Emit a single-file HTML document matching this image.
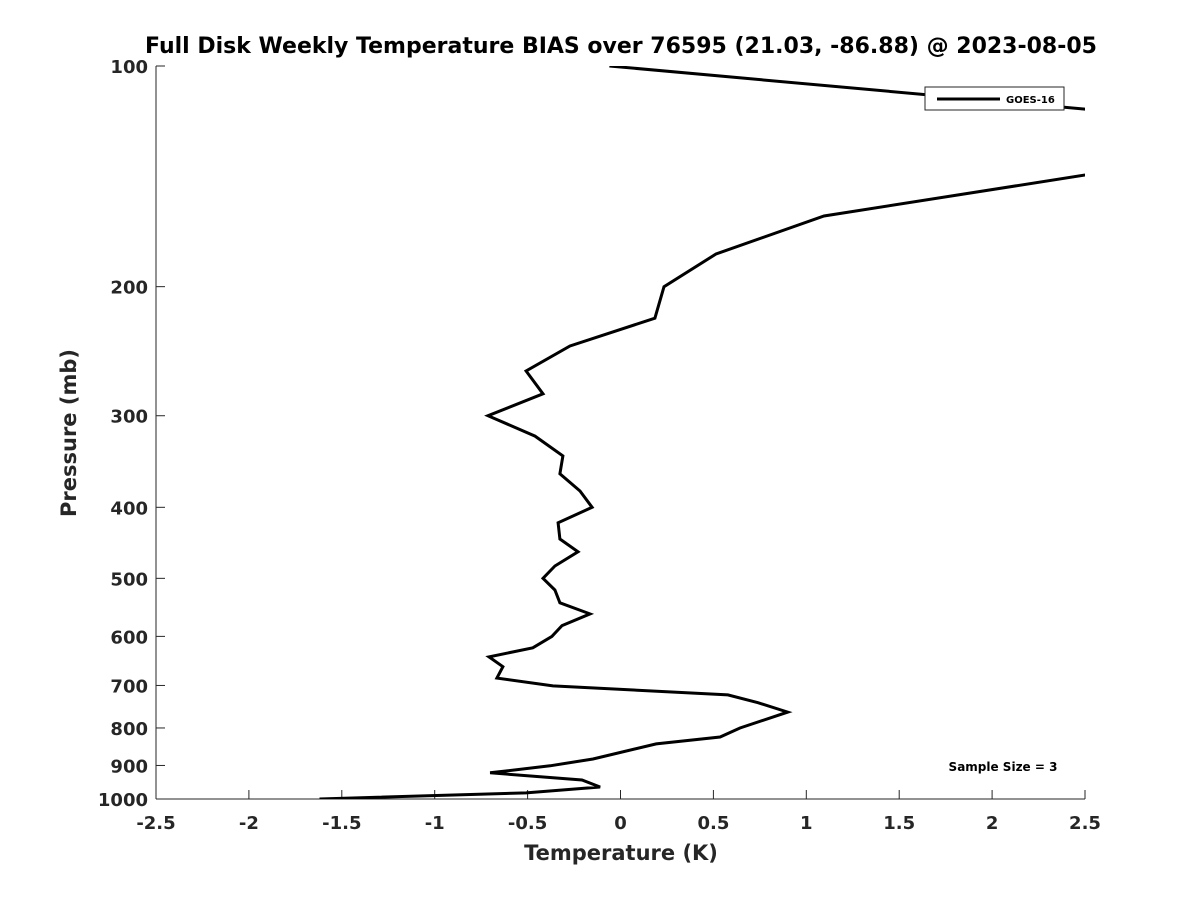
<!DOCTYPE html>
<html><head><meta charset="utf-8"><style>
body{margin:0;background:#fff}
svg text{font-family:"DejaVu Sans","Liberation Sans",sans-serif;font-weight:bold;fill:#262626}
</style></head><body>
<svg id="c" width="1200" height="900" xmlns="http://www.w3.org/2000/svg">
<text x="621" y="53" font-size="22" text-anchor="middle" style="fill:#000">Full Disk Weekly Temperature BIAS over 76595 (21.03, -86.88) @ 2023-08-05</text>
<g id="axes"></g>
<defs><clipPath id="clip"><rect x="156" y="66" width="929" height="733"/></clipPath></defs>
<g id="plot" clip-path="url(#clip)"></g>
<g>
<rect x="925" y="87" width="139" height="23" fill="#fff" stroke="#262626" stroke-width="1"/>
<line x1="937" y1="99" x2="1000" y2="99" stroke="#000" stroke-width="3"/>
<text x="1006" y="103" font-size="10" style="fill:#000">GOES-16</text>
</g>
<text x="1003" y="771" font-size="12" text-anchor="middle" style="fill:#000">Sample Size = 3</text>
<text x="621" y="860" font-size="21" text-anchor="middle">Temperature (K)</text>
<text transform="translate(76,433) rotate(-90)" font-size="21" text-anchor="middle">Pressure (mb)</text>
</svg>
<script>
const temps=[-0.06,3.5,3.5,1.095,0.514,0.234,0.185,-0.272,-0.508,-0.417,-0.713,-0.46,-0.31,-0.326,-0.218,-0.153,-0.336,-0.326,-0.229,-0.353,-0.417,-0.353,-0.326,-0.164,-0.315,-0.369,-0.472,-0.708,-0.633,-0.665,-0.364,0.578,0.74,0.90,0.643,0.536,0.192,-0.148,-0.379,-0.702,-0.207,-0.11,-0.508,-1.62];
const pressures=[100,120.7,128.5,160.2,180.5,200,220.8,241,260.7,280,300,319.8,340.4,360,380,400,420,441.8,460,481,500,518.6,540,559,580,600,622,640,660,684,701,721,739,761,800,823,841,882,901,921,942,963,981,1000];
const xTicks=[-2.5,-2,-1.5,-1,-0.5,0,0.5,1,1.5,2,2.5];
const yTicks=[100,200,300,400,500,600,700,800,900,1000];
const X0=156,X1=1085,Y0=66,Y1=799;
const xs=v=>X0+(v+2.5)/5*(X1-X0);
const ys=p=>Y0+(Math.log10(p)-2)*(Y1-Y0);
const NS="http://www.w3.org/2000/svg";
const axes=document.getElementById('axes');
function mk(t,a,parent){const e=document.createElementNS(NS,t);for(const k in a)e.setAttribute(k,a[k]);parent.appendChild(e);return e;}
const ya=mk('line',{x1:X0,y1:Y0,x2:X0,y2:Y1,stroke:'#262626','stroke-width':1},axes);


const xa=mk('line',{x1:X0,y1:Y1,x2:X1,y2:Y1,stroke:'#262626','stroke-width':1},axes);


xTicks.forEach(v=>{
  const x=xs(v);
  mk('line',{x1:x,y1:Y1,x2:x,y2:Y1-9,stroke:'#262626'},axes);
  const t=mk('text',{x:x,y:Y1+30,'font-size':18,'text-anchor':'middle'},axes);
  t.textContent=String(v);
  
  
});
yTicks.forEach(p=>{
  const y=ys(p);
  mk('line',{x1:X0,y1:y,x2:X0+9,y2:y,stroke:'#262626'},axes);
  const t=mk('text',{x:X0-8,y:y+7,'font-size':18,'text-anchor':'end'},axes);
  t.textContent=String(p);
  
  
});
const pts=temps.map((v,i)=>xs(v).toFixed(1)+','+ys(pressures[i]).toFixed(1)).join(' ');
const line=mk('polyline',{points:pts,fill:'none',stroke:'#000','stroke-width':3,'stroke-linejoin':'miter'},document.getElementById('plot'));


</script>
</body></html>
